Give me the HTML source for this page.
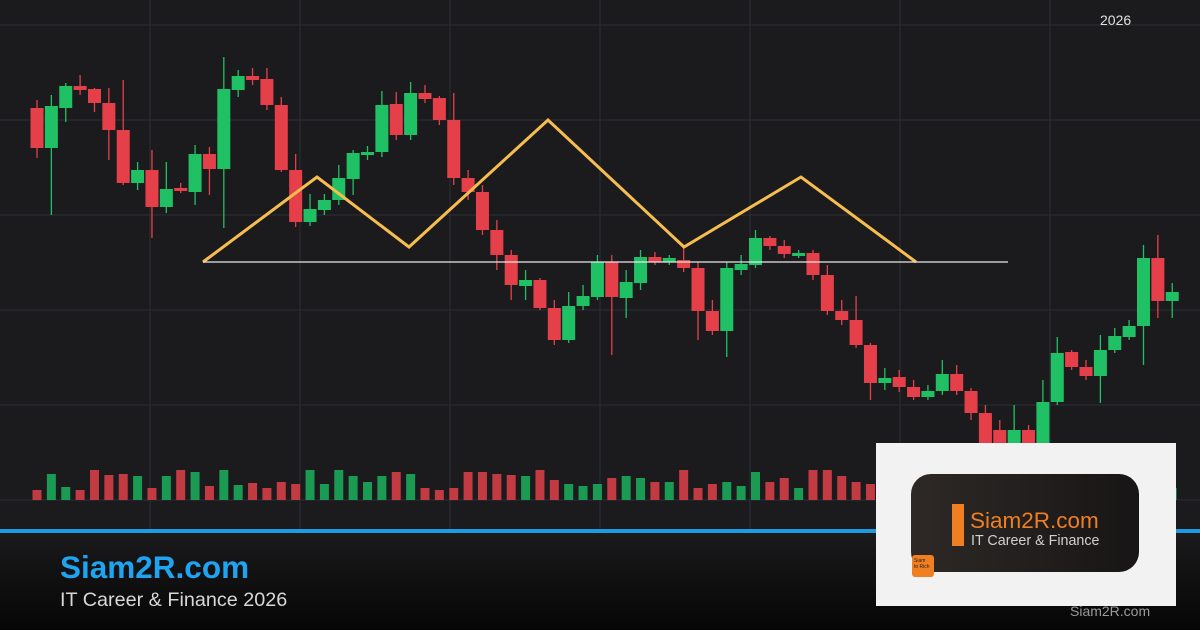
<!DOCTYPE html>
<html><head><meta charset="utf-8"><style>
html,body{margin:0;padding:0;}
body{width:1200px;height:630px;overflow:hidden;background:#1b1b1e;font-family:"Liberation Sans",sans-serif;position:relative;}
svg{position:absolute;left:0;top:0;}
.t1{position:absolute;left:60px;top:549px;color:#1ea4f0;font-weight:bold;font-size:31.5px;}
.t2{position:absolute;left:60px;top:589px;color:#d8d8d8;font-size:19.8px;}
.yr{position:absolute;left:1100px;top:12px;color:#e0e0e0;font-size:14px;}
.logo{position:absolute;left:876px;top:443px;width:300px;height:163px;background:#f2f2f2;}
.inner{position:absolute;left:35px;top:31px;width:228px;height:98px;border-radius:20px;background:linear-gradient(90deg,#2e2926,#171515);}
.bar{position:absolute;left:41px;top:30px;width:12px;height:42px;background:#f07f22;}
.l1{position:absolute;left:59px;top:34px;color:#f07f22;font-size:22.5px;}
.l2{position:absolute;left:60px;top:59px;color:#d0d0d0;font-size:14.3px;}
.sq{position:absolute;left:36px;top:112px;width:22px;height:22px;border-radius:3px;background:#f07f22;font-size:5px;color:#222;line-height:6px;padding:3px 2px;box-sizing:border-box;}
.wm{position:absolute;left:1070px;top:603px;color:#9a9a9a;font-size:14px;}
</style></head><body>
<svg id="s" width="1200" height="630" xmlns="http://www.w3.org/2000/svg">
<defs><linearGradient id="g" x1="0" y1="0" x2="0" y2="1"><stop offset="0" stop-color="#1a1a1c"/><stop offset="1" stop-color="#060606"/></linearGradient></defs>
<rect x="0" y="533" width="1200" height="97" fill="url(#g)"/>
<g id="grid" stroke="#2c2d38" stroke-width="1"></g>
<g id="c"></g>
<polyline points="203,262 317,177 409,247 548,120 684,247 801,177 916,262" fill="none" stroke="#f7bd4e" stroke-width="3"/>
<line x1="203" y1="262" x2="1008" y2="262" stroke="#e8e8e8" stroke-width="1.2"/>
<rect x="0" y="529" width="1200" height="4" fill="#1e9be0"/>
</svg>
<div class="yr">2026</div>
<div class="t1">Siam2R.com</div>
<div class="t2">IT Career &amp; Finance 2026</div>
<div class="logo"><div class="inner"><div class="bar"></div><div class="l1">Siam2R.com</div><div class="l2">IT Career &amp; Finance</div></div><div class="sq">Siam<br>to Rich</div></div>
<div class="wm">Siam2R.com</div>
<script>
var d=[[108,148,100,158],[148,106,95,215],[108,86,83,122],[86,90,75,95],[89,103,88,112],[103,130,88,160],[130,183,80,185],[183,170,162,190],[170,207,150,238],[207,189,162,213],[188,191,183,193],[192,154,145,205],[154,169,147,195],[169,89,57,228],[90,76,70,97],[76,80,68,85],[79,105,68,110],[105,170,97,172],[170,222,154,227],[222,209,194,226],[210,200,194,215],[200,178,165,205],[179,153,150,195],[155,152,146,160],[152,105,91,157],[104,135,92,140],[135,93,82,140],[93,99,85,103],[98,120,96,125],[120,178,93,185],[178,192,170,200],[192,230,185,235],[230,255,220,270],[255,285,250,300],[286,280,270,300],[280,308,278,310],[308,340,300,345],[340,306,292,343],[306,296,285,310],[297,262,255,300],[262,297,255,355],[298,282,270,318],[283,257,250,290],[257,262,252,265],[262,258,255,265],[260,268,245,272],[268,311,262,340],[311,331,300,335],[331,268,262,357],[270,264,255,275],[265,238,230,268],[238,246,236,250],[246,254,240,258],[256,253,250,258],[253,275,250,280],[275,311,265,315],[311,320,300,325],[320,345,296,348],[345,383,343,400],[383,378,368,390],[377,387,370,392],[387,397,380,400],[397,391,385,400],[391,374,360,395],[374,391,365,395],[391,413,388,420],[413,445,405,450],[430,445,420,450],[445,430,405,450],[430,445,425,450],[445,402,380,450],[402,353,337,405],[352,367,350,370],[367,376,360,380],[376,350,335,403],[350,336,328,353],[337,326,320,340],[326,258,245,365],[258,301,235,318],[301,292,283,318]];
var ns="http://www.w3.org/2000/svg",g=document.getElementById('c'),gr=document.getElementById('grid');
function el(p,t,a){var e=document.createElementNS(ns,t);for(var k in a)e.setAttribute(k,a[k]);p.appendChild(e);return e;}
[25,120,215,310,405,500].forEach(function(y){el(gr,'line',{x1:0,x2:1200,y1:y,y2:y});});
[150,300,450,600,750,900,1050].forEach(function(x){el(gr,'line',{x1:x,x2:x,y1:0,y2:529});});
var vh=[10,26,13,10,30,25,26,24,12,24,30,28,14,30,15,17,12,18,16,30,16,30,24,18,24,28,26,12,10,12,28,28,26,25,24,30,20,16,14,16,22,24,22,18,18,30,12,16,18,14,28,18,22,12,30,30,24,18,16,30,18,22,18,24,20,22,24,20,18,26,22,20,24,18,16,24,20,26,22,12];
d.forEach(function(c,i){var x=37+i*14.37,up=c[1]<c[0],col=up?'#1fc164':'#e5404a';
el(g,'line',{x1:x,x2:x,y1:c[2],y2:c[3],stroke:col,'stroke-width':1.3});
var t=Math.min(c[0],c[1]),h=Math.max(3,Math.abs(c[0]-c[1]));
el(g,'rect',{x:x-6.5,y:t,width:13,height:h,fill:col});
var v=vh[i];el(g,'rect',{x:x-4.5,y:500-v,width:9,height:v,fill:up?'#1a9a52':'#c23a42'});});
</script>
</body></html>
